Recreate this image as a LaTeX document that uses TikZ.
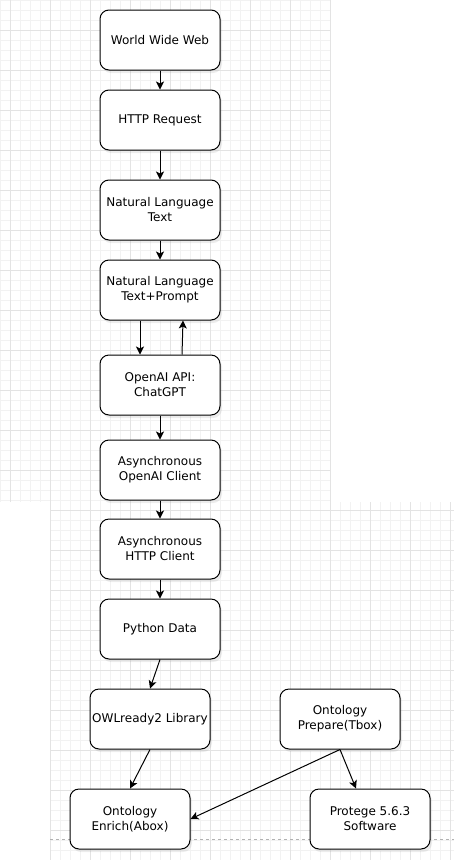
\documentclass[tikz,border=0pt]{standalone}
\usepackage{fontspec}
\setmainfont{DejaVu Sans}
\usetikzlibrary{positioning, shadows, arrows.meta}

\tikzset{
  box/.style={draw, rounded corners=9pt, minimum width=120pt, minimum height=60pt,
    inner sep=2pt, align=center, fill=white, line width=1pt,
    font=\fontsize{12}{15}\selectfont,
    drop shadow={shadow xshift=2pt, shadow yshift=-3pt, opacity=0.15}},
  flow/.style={-{Stealth[length=8pt,width=8pt,inset=2pt]}, line width=1pt},
  minorgrid/.style={draw=black!5, line width=0.7pt},
  majorgrid/.style={draw=black!11, line width=0.8pt},
}

\begin{document}
\begin{tikzpicture}[x=1pt, y=1pt, node distance=80pt, on grid]
  \useasboundingbox (0,-860) rectangle (454,0);
  % background grid
  \draw[minorgrid, step=10] (0,-502) grid (330,0);
  \draw[majorgrid, step=40, shift={(10,-30)}] (-10,-472) grid (320,30);
  \draw[minorgrid, step=10] (50,-860) grid (454,-502);
  \draw[majorgrid, step=40, shift={(10,-30)}] (40,-830) grid (444,-472);
  \draw[black!30, dash pattern=on 3pt off 3pt] (50,-839) -- (454,-839);

  \node[box] (www) at (160,-40) {World Wide Web};
  \node[box, below=80pt of www] (http) {HTTP Request};
  \node[box, below=90pt of http] (nlt) {Natural Language\\Text};
  \node[box, below=80pt of nlt] (nlp) {Natural Language\\Text+Prompt};
  \node[box, below=95pt of nlp] (api) {OpenAI API:\\ChatGPT};
  \node[box, below=85pt of api] (aoc) {Asynchronous\\OpenAI Client};
  \node[box, below=79pt of aoc] (ahc) {Asynchronous\\HTTP Client};
  \node[box, below=80pt of ahc] (py) {Python Data};
  \node[box, below left=90pt and 10pt of py] (owl) {OWLready2 Library};
  \node[box, right=190pt of owl] (tbox) {Ontology\\Prepare(Tbox)};
  \node[box, below left=100pt and 20pt of owl] (abox) {Ontology\\Enrich(Abox)};
  \node[box, below right=100pt and 30pt of tbox] (prot) {Protege 5.6.3\\Software};

  \path[flow]
    (www) edge (http)
    (http) edge (nlt)
    (nlt) edge (nlp)
    (api) edge (aoc)
    (aoc) edge (ahc)
    (ahc) edge (py);
  \draw[flow] ([xshift=-20pt]nlp.south) -- ([xshift=-20pt]api.north);
  \draw[flow] ([xshift=22pt]api.north) -- ([xshift=23pt]nlp.south);
  \draw[flow] (py.south) -- (owl.north);
  \draw[flow] (owl.south) -- (abox.north);
  \draw[flow] (tbox.south) -- (abox.east);
  \draw[flow] (tbox.south) -- ([xshift=-14pt]prot.north);
\end{tikzpicture}
\end{document}
